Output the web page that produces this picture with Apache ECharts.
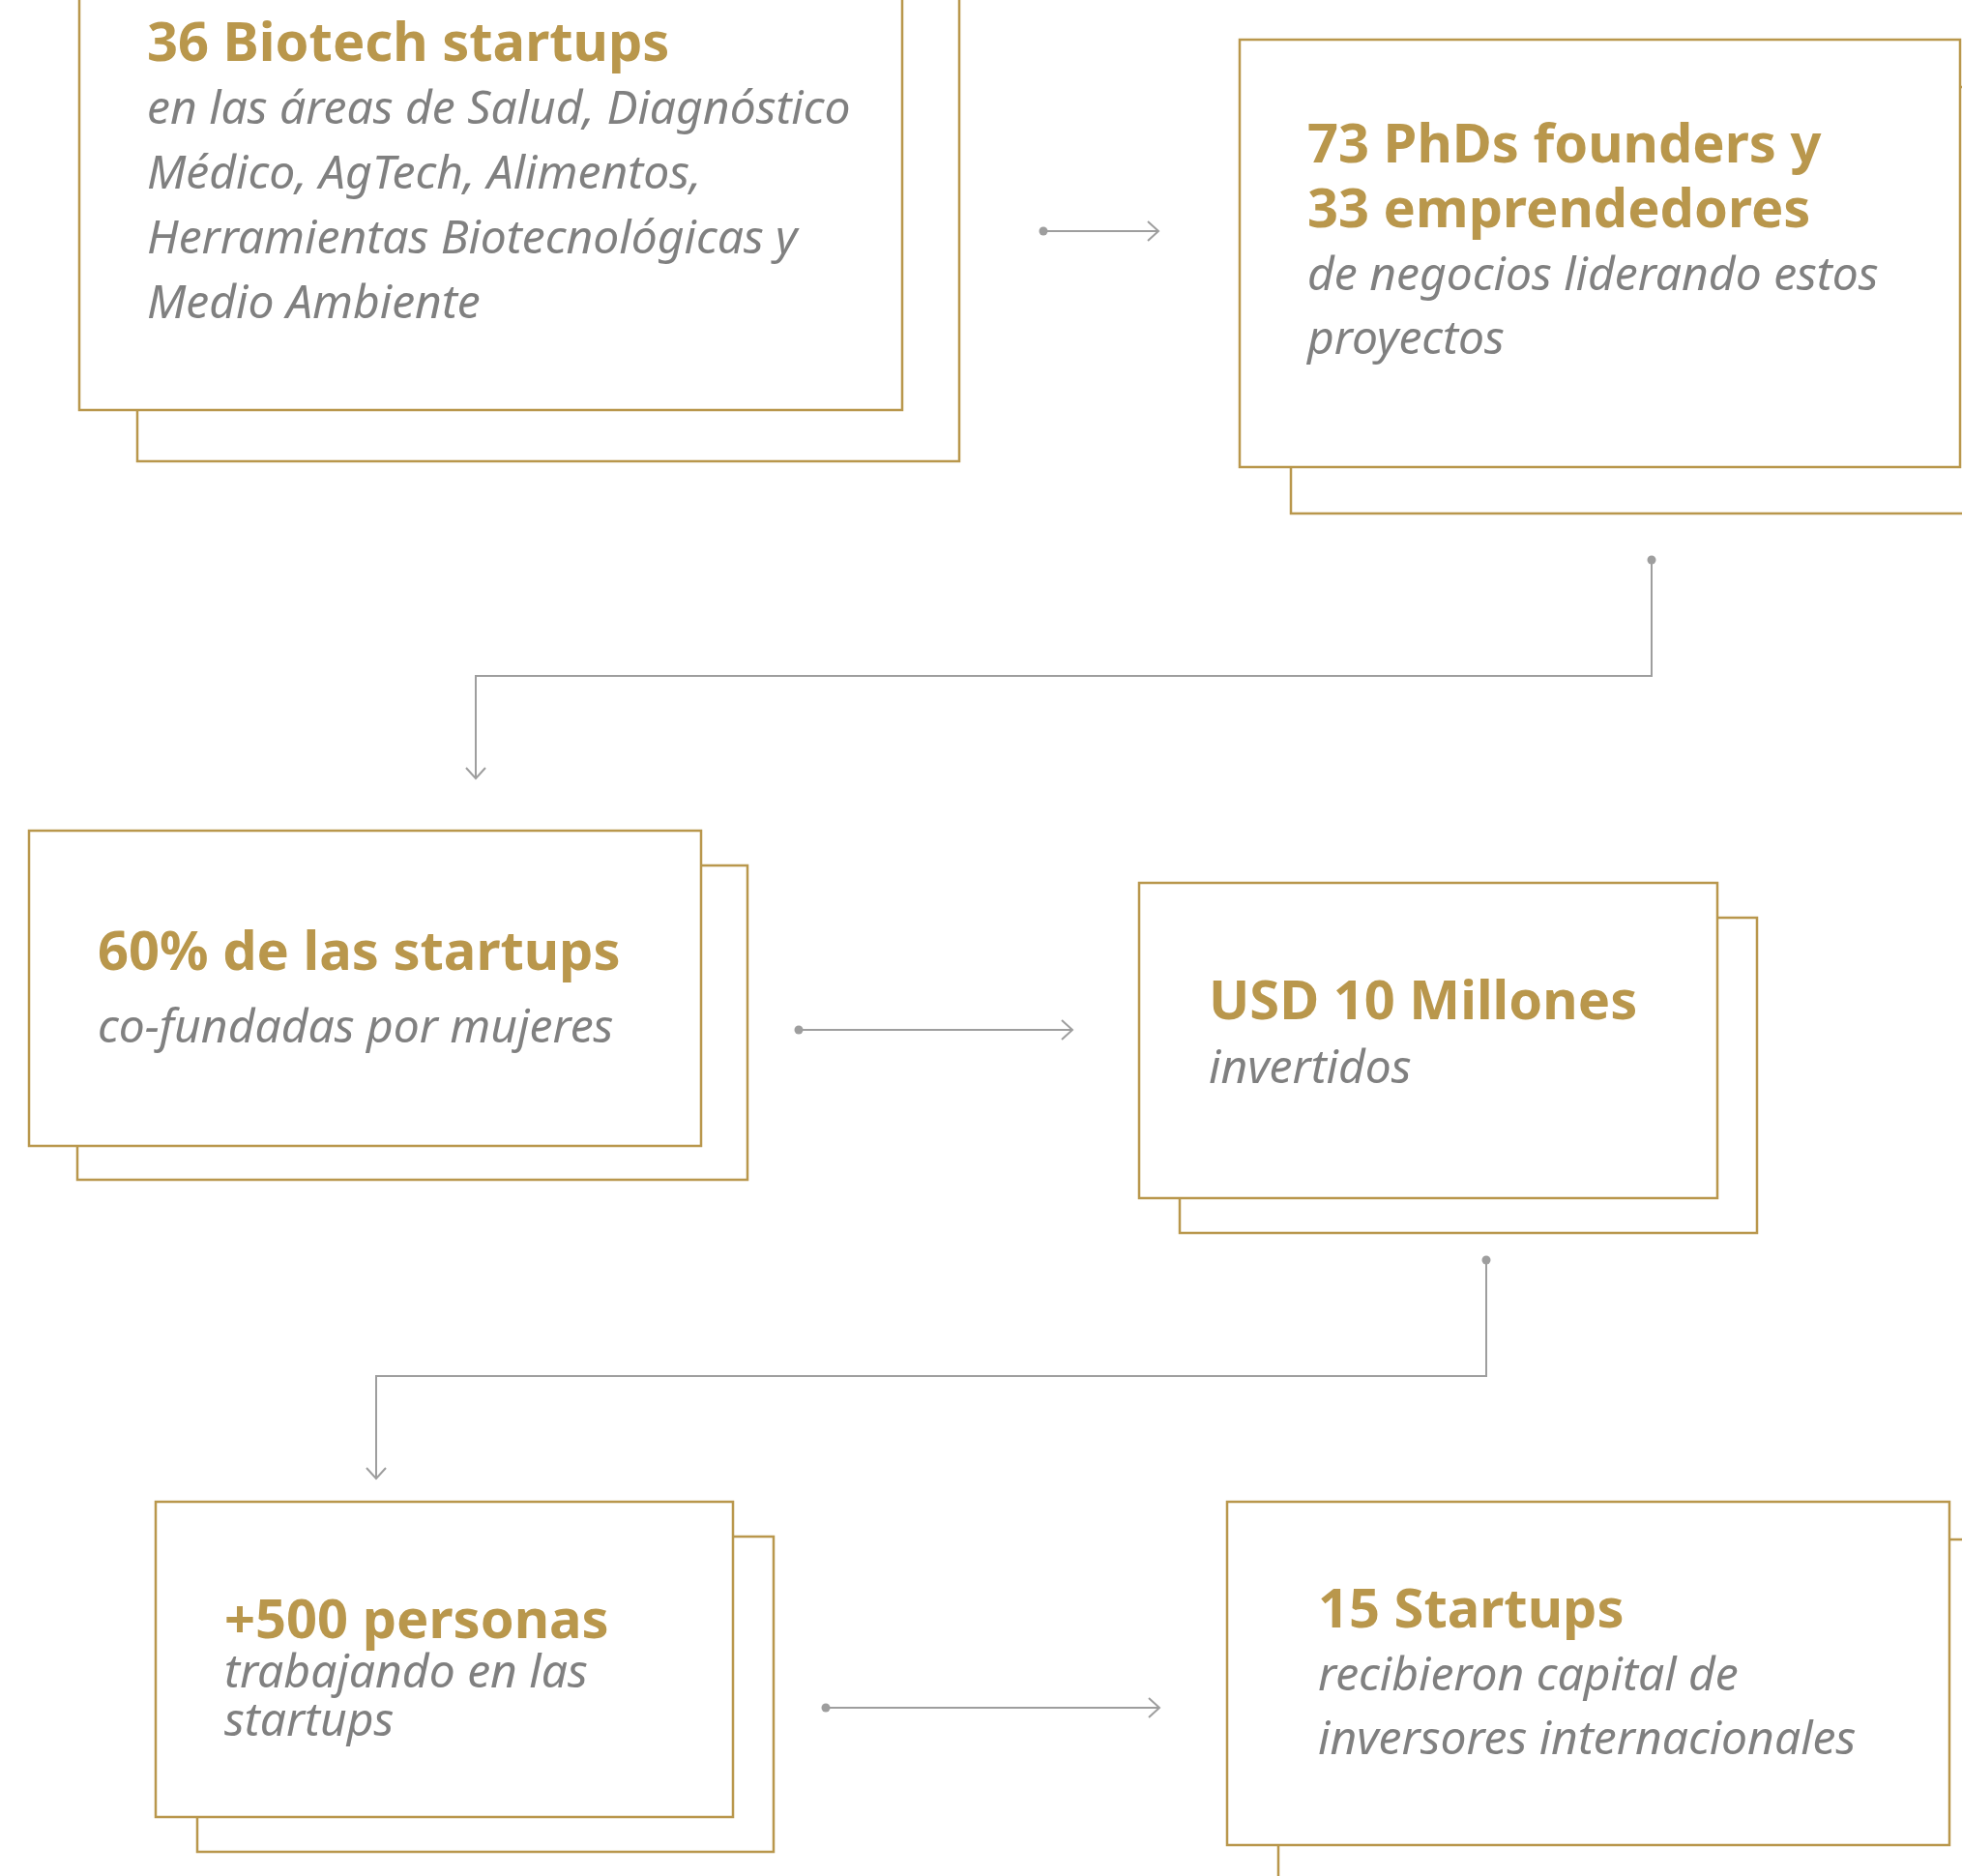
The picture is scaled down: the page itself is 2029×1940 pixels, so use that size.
<!DOCTYPE html>
<html><head><meta charset="utf-8">
<script src="https://cdn.jsdelivr.net/npm/echarts@6/dist/echarts.min.js"></script>
<style>html,body{margin:0;padding:0;background:#fff}#c{width:2029px;height:1940px}</style>
</head><body><div id="c"></div>
<script>
// ---- content ----
const titles = [
  ["36 Biotech startups"],
  ["73 PhDs founders y", "33 emprendedores"],
  ["60% de las startups"],
  ["USD 10 Millones"],
  ["+500 personas"],
  ["15 Startups"]
];
const subtitles = [
  ["en las áreas de Salud, Diagnóstico", "Médico, AgTech, Alimentos,", "Herramientas Biotecnológicas y", "Medio Ambiente"],
  ["de negocios liderando estos", "proyectos"],
  ["co-fundadas por mujeres"],
  ["invertidos"],
  ["trabajando en las", "startups"],
  ["recibieron capital de", "inversores internacionales"]
];

// ---- layout (canvas units of the hidden value axes) ----
const frontBox = [[82,-300,933,424],[1282,41,2027,483],[30,859,725,1185],[1178,913,1776,1239],[161,1553,758,1879],[1269,1553,2016,1908]];
const backBox  = [[142,-250,992,477],[1335,90,2120,531],[80,895,773,1220],[1220,949,1817,1275],[204,1589,800,1915],[1322,1592,2120,2120]];
const textX = [152,1352,101,1250,232,1363];
const titleBase = [63,168,1003,1054,1694,1683];
const titleGap = [67,67,67,67,67,67];
const subBase = [128,300,1078,1120,1745,1748];
const subGap = [67,66,67,67,50,66];
const arrowLines = [[[1079,239],[1198,239]],[[826,1065],[1109,1065]],[[854,1766],[1199,1766]]];
const elbowLines = [[[1708,579],[1708,699],[492,699],[492,805]],[[1537,1303],[1537,1423],[389,1423],[389,1529]]];

const GOLD = '#b9974c', GREY_TXT = '#808080', GREY_LINE = '#9e9e9e';
const TITLE_FS = 56, SUB_FS = 48;
const TITLE_FONT = 'bold ' + TITLE_FS + 'px "Noto Sans"';
const SUB_FONT = 'italic ' + SUB_FS + 'px "Noto Sans"';
const MID = 0.28;

const chart = echarts.init(document.getElementById('c'), null, {renderer:'canvas'});

function boxItem(params, api) {
  const i = params.dataIndex;
  const f = frontBox[i], b = backBox[i];
  const f0 = api.coord([f[0], f[1]]), f1 = api.coord([f[2], f[3]]);
  const b0 = api.coord([b[0], b[1]]), b1 = api.coord([b[2], b[3]]);
  const children = [
    {type:'rect', shape:{x:b0[0], y:b0[1], width:b1[0]-b0[0], height:b1[1]-b0[1]}, style:{fill:'#fff', stroke:GOLD, lineWidth:2.5}},
    {type:'rect', shape:{x:f0[0], y:f0[1], width:f1[0]-f0[0], height:f1[1]-f0[1]}, style:{fill:'#fff', stroke:GOLD, lineWidth:2.5}}
  ];
  titles[i].forEach((t, k) => {
    const p = api.coord([textX[i], titleBase[i] + k * titleGap[i]]);
    children.push({type:'text', style:{text:t, x:p[0], y:p[1] - MID*TITLE_FS, font:TITLE_FONT, fill:GOLD, align:'left', verticalAlign:'middle'}});
  });
  subtitles[i].forEach((t, k) => {
    const p = api.coord([textX[i], subBase[i] + k * subGap[i]]);
    children.push({type:'text', style:{text:t, x:p[0], y:p[1] - MID*SUB_FS, font:SUB_FONT, fill:GREY_TXT, align:'left', verticalAlign:'middle'}});
  });
  return {type:'group', children};
}

function chevron(tip, dir) {
  const L = 11, W = 10;
  const bx = tip[0] - dir[0]*L, by = tip[1] - dir[1]*L;
  const nx = -dir[1], ny = dir[0];
  return {type:'polyline', shape:{points:[[bx+nx*W, by+ny*W], tip, [bx-nx*W, by-ny*W]]}, style:{stroke:GREY_LINE, lineWidth:2, fill:null}};
}

function connItem(params, api) {
  const i = params.dataIndex;
  const pts = (i < arrowLines.length ? arrowLines[i] : elbowLines[i - arrowLines.length]).map(p => api.coord(p));
  const n = pts.length;
  const dx = pts[n-1][0]-pts[n-2][0], dy = pts[n-1][1]-pts[n-2][1];
  const len = Math.hypot(dx, dy);
  return {type:'group', children:[
    {type:'polyline', shape:{points:pts}, style:{stroke:GREY_LINE, lineWidth:2, fill:null}},
    {type:'circle', shape:{cx:pts[0][0], cy:pts[0][1], r:4.5}, style:{fill:GREY_LINE}},
    chevron(pts[n-1], [dx/len, dy/len])
  ]};
}

const connData = arrowLines.concat(elbowLines).map(l => l[0]);

chart.setOption({
  animation:false,
  backgroundColor:'#ffffff',
  grid:{left:0, right:0, top:0, bottom:0},
  xAxis:{type:'value', min:0, max:2029, show:false},
  yAxis:{type:'value', min:0, max:1940, inverse:true, show:false},
  series:[
    {type:'custom', clip:false, renderItem:connItem, data:connData, silent:true},
    {type:'custom', clip:false, renderItem:boxItem, data:frontBox.map(f => [f[0], f[1]]), silent:true}
  ]
});
</script></body></html>
